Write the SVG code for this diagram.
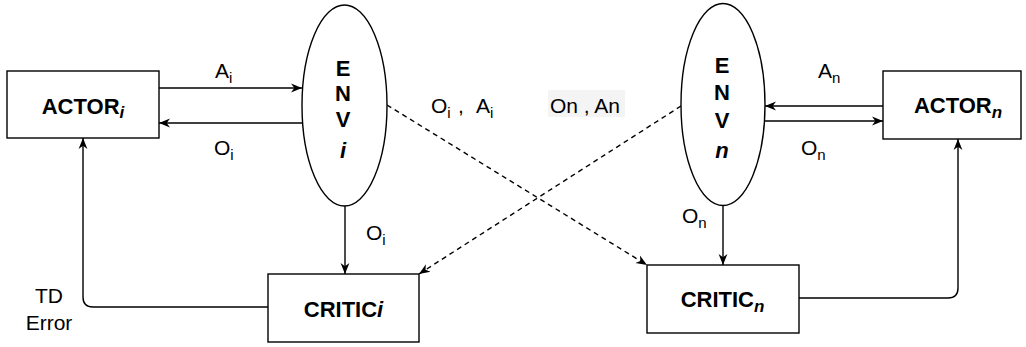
<svg xmlns="http://www.w3.org/2000/svg" width="1026" height="347" viewBox="0 0 1026 347">
<style>
.shape{fill:#fff;stroke:#000;stroke-width:1.4}
.ln{fill:none;stroke:#000;stroke-width:1.4}
.dash{stroke-dasharray:5 4}
text{font-family:"Liberation Sans",Arial,sans-serif;fill:#000}
.b{font-weight:bold;font-size:22px}
.env{font-weight:bold;font-size:22px;text-anchor:middle}
.lbl{font-size:21px}
.sub{font-size:15px}
</style>
<defs>
<marker id="arr" viewBox="0 0 10 10" refX="10" refY="5" markerWidth="11" markerHeight="11" markerUnits="userSpaceOnUse" orient="auto">
<path d="M0,1 L10,5 L0,9 L3,5 z" fill="#000"/>
</marker>
</defs>
<g id="connectors">
<line class="ln" x1="159" y1="88" x2="302" y2="88" marker-end="url(#arr)"/>
<line class="ln" x1="302" y1="123" x2="159" y2="123" marker-end="url(#arr)"/>
<line class="ln" x1="345" y1="206" x2="345" y2="274" marker-end="url(#arr)"/>
<path class="ln" d="M268 307 H93 Q83 307 83 297 V138" marker-end="url(#arr)"/>
<line class="ln" x1="883" y1="106" x2="765" y2="106" marker-end="url(#arr)"/>
<line class="ln" x1="765" y1="121" x2="883" y2="121" marker-end="url(#arr)"/>
<line class="ln" x1="723" y1="206" x2="723" y2="265" marker-end="url(#arr)"/>
<path class="ln" d="M799 298 H948 Q958 298 958 288 V139" marker-end="url(#arr)"/>
<line class="ln dash" x1="387" y1="105" x2="647" y2="265" marker-end="url(#arr)"/>
<line class="ln dash" x1="681" y1="106" x2="419" y2="274" marker-end="url(#arr)"/>
</g>
<g id="actor_i">
<rect class="shape" x="7" y="71" width="152" height="67"/>
<text class="b" x="83" y="114" text-anchor="middle">ACTOR<tspan font-style="italic" font-size="17" dy="4">i</tspan></text>
</g>
<g id="env_i">
<ellipse class="shape" cx="344.5" cy="105.5" rx="42.5" ry="100.5"/>
<text class="env" x="343" y="76">E</text>
<text class="env" x="343" y="101">N</text>
<text class="env" x="343" y="127">V</text>
<text class="env" x="343" y="158" font-style="italic" font-size="17">i</text>
</g>
<g id="critic_i">
<rect class="shape" x="268" y="274" width="151" height="68"/>
<text class="b" x="343.5" y="317" text-anchor="middle">CRITIC<tspan font-style="italic">i</tspan></text>
</g>
<g id="env_n">
<ellipse class="shape" cx="723" cy="104.5" rx="42" ry="101"/>
<text class="env" x="722" y="73">E</text>
<text class="env" x="722" y="100">N</text>
<text class="env" x="722" y="128">V</text>
<text class="env" x="722" y="158" font-style="italic" font-size="17">n</text>
</g>
<g id="actor_n">
<rect class="shape" x="883" y="71" width="138" height="68"/>
<text class="b" x="958" y="113" text-anchor="middle">ACTOR<tspan font-style="italic" font-size="17" dy="5">n</tspan></text>
</g>
<g id="critic_n">
<rect class="shape" x="647" y="265" width="152" height="68"/>
<text class="b" x="722.5" y="307" text-anchor="middle">CRITIC<tspan font-style="italic" font-size="17" dy="5">n</tspan></text>
</g>
<g id="labels">
<text class="lbl" x="215" y="78">A<tspan class="sub" dy="5">i</tspan></text>
<text class="lbl" x="214" y="155">O<tspan class="sub" dy="5">i</tspan></text>
<text class="lbl" x="366" y="240">O<tspan class="sub" dy="5">i</tspan></text>
<text class="lbl" x="49" y="303" text-anchor="middle">TD</text>
<text class="lbl" x="49" y="330" text-anchor="middle">Error</text>
<text class="lbl" y="113"><tspan x="431">O</tspan><tspan class="sub" dy="5">i</tspan><tspan x="458" dy="-5">,</tspan><tspan x="476">A</tspan><tspan class="sub" dy="5">i</tspan></text>
<rect x="548" y="90" width="77" height="27" fill="#f4f4f4"/>
<text class="lbl" x="550" y="113" font-size="21.5">On , An</text>
<text class="lbl" x="818" y="78">A<tspan class="sub" dy="5">n</tspan></text>
<text class="lbl" x="801" y="155">O<tspan class="sub" dy="5">n</tspan></text>
<text class="lbl" x="682" y="223">O<tspan class="sub" dy="5">n</tspan></text>
</g>
</svg>
